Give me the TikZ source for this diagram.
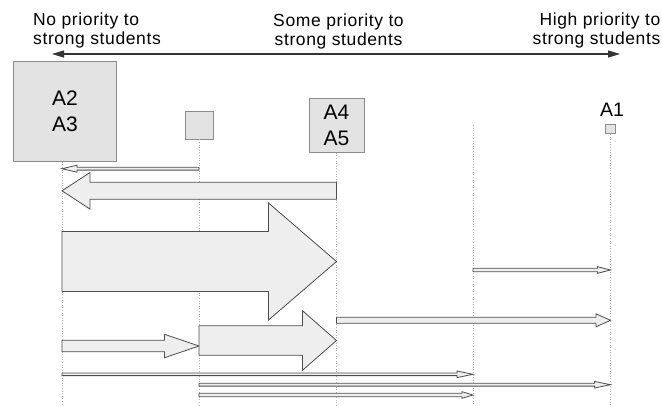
\documentclass[tikz,border=0pt]{standalone}
\usepackage{fontspec}
\setmainfont{Liberation Sans}
\newfontfamily\spacedsans[LetterSpace=3.5]{Liberation Sans}
\usetikzlibrary{arrows.meta,calc}
\definecolor{boxgray}{HTML}{E3E3E3}
\definecolor{boxline}{HTML}{8C8C8C}
\definecolor{arrowfill}{HTML}{EEEEEE}
\definecolor{arrowline}{HTML}{4D4D4D}
\tikzset{
  grpbox/.style={draw=boxline, fill=boxgray, line width=0.9pt, inner sep=0pt, align=center,
    font=\fontsize{21}{26.5}\selectfont},
  prio/.style={inner sep=0pt, font=\spacedsans\fontsize{17.5}{19}\selectfont},
  guide/.style={draw=gray!60, dotted, line width=0.6pt},
  blockarrow/.style={draw=arrowline, fill=arrowfill, line width=0.8pt, line join=miter},
}
% #1 from, #2 to, #3 row, #4 half shaft, #5 half head, #6 head length
\newcommand{\fatarrow}[6]{%
  \draw[blockarrow] let \p1=(#1), \p2=(#2), \p3=(0,#3), \n1={sign(\x2-\x1)*#6} in
    (\x1,\y3+#4pt) -- (\x2-\n1,\y3+#4pt) -- (\x2-\n1,\y3+#5pt) -- (\x2,\y3)
    -- (\x2-\n1,\y3-#5pt) -- (\x2-\n1,\y3-#4pt) -- (\x1,\y3-#4pt) -- cycle;}
\begin{document}
\begin{tikzpicture}[x=1pt,y=-1pt]
\useasboundingbox (0,0) rectangle (662,405);
\node[prio, anchor=north west, align=left] (lowprio) at (33,13) {No priority to\\strong students};
\node[prio, anchor=north, align=center] (midprio) at (338.5,14) {Some priority to\\strong students};
\node[prio, anchor=north east, align=right] (highprio) at (660.5,13) {High priority to\\strong students};
\coordinate (lft) at (52,54);
\coordinate (rgt) at (620,54);
\draw[line width=1.1pt, draw=black!80, {Triangle[length=12pt,width=7pt]}-{Triangle[length=12pt,width=7pt]}] (lft) -- (rgt);

\node[grpbox, minimum width=103pt, minimum height=100.5pt] (g23) at (65,111.3) {A2\\A3};
\node[grpbox, minimum width=28pt, minimum height=28pt] (gmid) at (199,125) {};
\node[grpbox, minimum width=55pt, minimum height=54pt] (g45) at (336.5,125.3) {A4\\A5};
\node[grpbox, minimum width=10pt, minimum height=9.5pt] (g1) at (610.5,128.7) {};
\node[font=\fontsize{19.5}{22}\selectfont, anchor=base] (a1lbl) at (612,116.5) {A1};
\coordinate (c0) at (62,161.7);
\coordinate (c3) at (473,125);
\coordinate (bot) at (0,405);

\foreach \col in {c0,gmid.south,g45.south,c3,g1.south} {
  \draw[guide] (\col) -- (\col |- bot);
}

\foreach \from/\to/\row/\shaft/\head/\len in {gmid/c0/168.7/1.4/3.5/15,
    g45/c0/190.8/8.5/18.3/28, c0/g45/261.5/30/58.5/68, c3/g1/270/1.7/3.3/13,
    g45/g1/320.3/3/6.5/14.5, c0/gmid/346/5.8/11.7/34.5, gmid/g45/340.5/14.7/29.8/34,
    c0/c3/374.3/1.3/3.3/16, gmid/g1/384.7/1.4/3.3/16, gmid/c3/395/1.7/3.3/11} {
  \fatarrow{\from}{\to}{\row}{\shaft}{\head}{\len}
}
\end{tikzpicture}
\end{document}
